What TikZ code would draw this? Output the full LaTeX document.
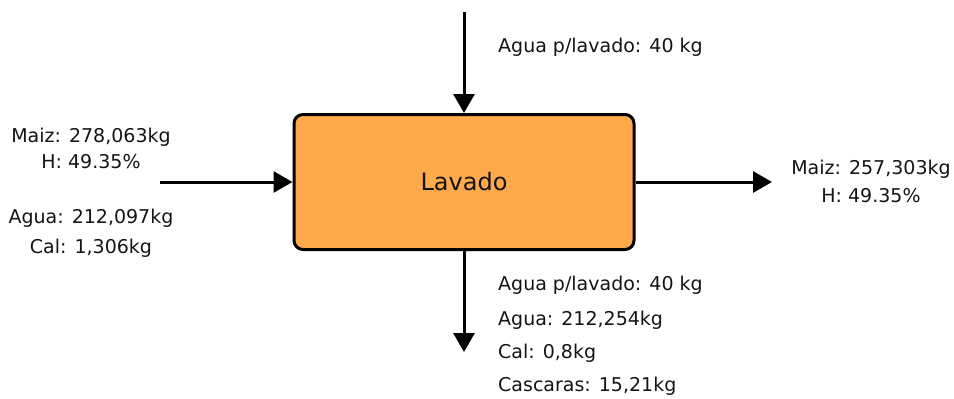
\documentclass[tikz,border=0pt]{standalone}
\usepackage{fontspec}
\setmainfont{DejaVu Sans}
\usetikzlibrary{arrows.meta}
\definecolor{procfill}{RGB}{255,169,77}
\definecolor{txt}{RGB}{20,20,20}
\tikzset{
  procbox/.style={draw=black, line width=3pt, fill=procfill, rounded corners=9pt,
    minimum width=340pt, minimum height=135pt, inner sep=0pt,
    font=\fontsize{24}{28}\selectfont, text=txt},
  flow/.style={line width=3pt, -{Triangle[length=19pt,width=21pt]}},
  lbl/.style={font=\fontsize{19}{22}\selectfont, text=txt, inner sep=0pt},
  lblw/.style={lbl, anchor=west},
}
\begin{document}
\begin{tikzpicture}[x=1pt,y=-1pt]
  \useasboundingbox (0,0) rectangle (954,399);

  % process block
  \node[procbox] (lav) at (464,182) {\raisebox{-3pt}{Lavado}};

  % free ends of the streams
  \coordinate (topin) at (464,12);
  \coordinate (leftin) at (160,182);
  \coordinate (rightout) at (772,182);
  \coordinate (botout) at (464,352);

  % streams
  \draw[flow] (topin) -- (lav.north);
  \draw[flow] (leftin) -- (lav.west);
  \draw[flow] (lav.east) -- (rightout);
  \draw[flow] (lav.south) -- (botout);

  % feed water on top
  \node[lblw] (t1) at (498,47) {Agua p/lavado: 40 kg};

  % inlet stream on the left
  \node[lbl] (l1) at (91,137) {Maiz: 278,063kg};
  \node[lbl] (l2) at (91,162) {H: 49.35\%};
  \node[lbl] (l3) at (91,218) {Agua: 212,097kg};
  \node[lbl] (l4) at (91,248) {Cal: 1,306kg};

  % product on the right
  \node[lbl] (r1) at (871,169) {Maiz: 257,303kg};
  \node[lbl] (r2) at (871,196) {H: 49.35\%};

  % waste below
  \node[lblw] (b1) at (498,285) {Agua p/lavado: 40 kg};
  \node[lblw] (b2) at (498,320) {Agua: 212,254kg};
  \node[lblw] (b3) at (498,353) {Cal: 0,8kg};
  \node[lblw] (b4) at (498,386) {Cascaras: 15,21kg};
\end{tikzpicture}
\end{document}
